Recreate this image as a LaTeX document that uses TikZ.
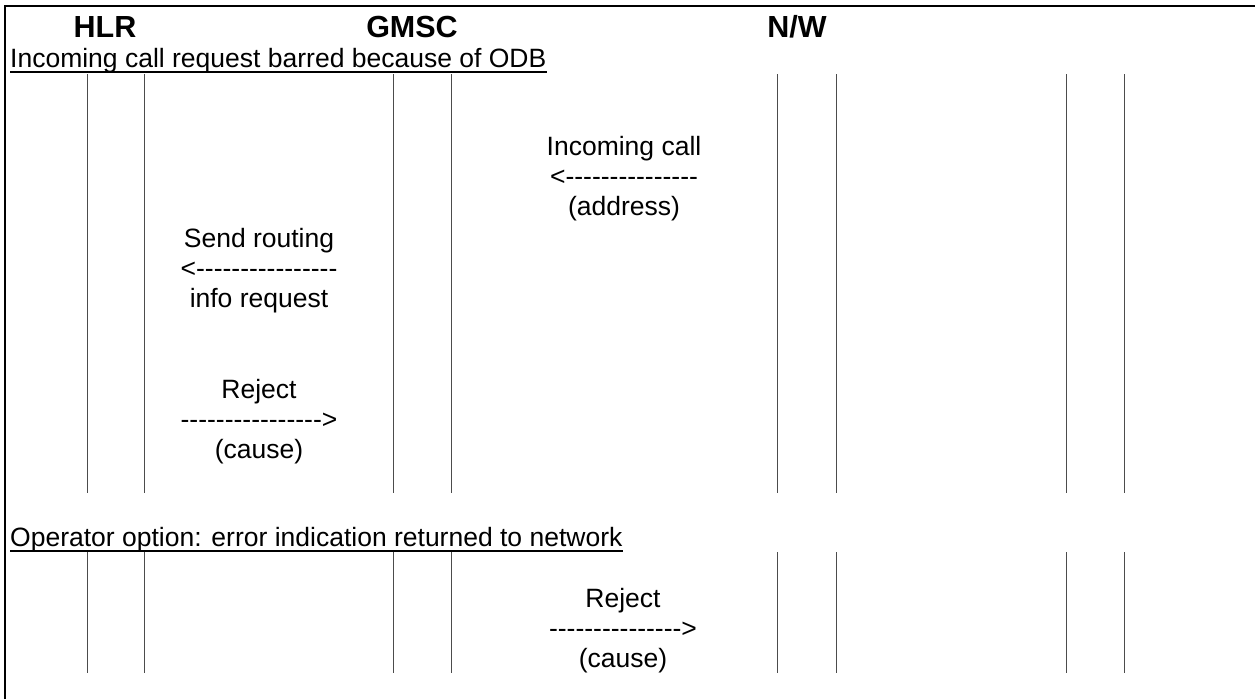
\documentclass[tikz,border=0pt]{standalone}
\usepackage{fontspec}
\setmainfont{Liberation Sans}[Ligatures=TeXOff]
\begin{document}
\begin{tikzpicture}[x=1pt,y=1pt,
  lbl/.style={inner sep=0pt, anchor=base, font=\fontsize{26.5}{30}\selectfont},
  hdr/.style={inner sep=0pt, anchor=base, font=\fontsize{30.5}{36}\selectfont\bfseries},
  ttl/.style={inner sep=0pt, anchor=base west, font=\fontsize{26.5}{30}\selectfont},
  uline/.style={line width=2pt, black},
  life/.style={line width=1pt, black!70},
  frame/.style={line width=2.2pt, black}]
\useasboundingbox (0,0) rectangle (1255,-699);
\draw[frame] (5,-699) -- (5,-6) -- (1255,-6);
% headers
\node[hdr] (hlr)  at (105,-37) {HLR};
\node[hdr] (gmsc) at (412,-37) {GMSC};
\node[hdr] (nw)   at (797,-37) {N/W};
% section titles
\node[ttl] (t1) at (10,-67) {Incoming call request barred because of ODB};
\draw[uline] ([yshift=-5pt]t1.base west) -- ([yshift=-5pt]t1.base east);
\node[ttl] (t2) at (10,-546) {Operator option: error indication returned to network};
\draw[uline] ([yshift=-5pt]t2.base west) -- ([yshift=-5pt]t2.base east);
% lifelines
\foreach \x in {87,144,393,451,777,836,1066,1124}{
  \draw[life] (\x,-74) -- (\x,-493);
  \draw[life] (\x,-552) -- (\x,-673);
}
% messages
\node[lbl] (m1a) at (624,-155) {Incoming call};
\node[lbl] (m1b) at (624,-185) {<---------------};
\node[lbl] (m1c) at (624,-215) {(address)};
\node[lbl] (m2a) at (259,-247) {Send routing};
\node[lbl] (m2b) at (259,-277) {<----------------};
\node[lbl] (m2c) at (259,-307) {info request};
\node[lbl] (m3a) at (259,-398) {Reject};
\node[lbl] (m3b) at (259,-428) {---------------->};
\node[lbl] (m3c) at (259,-458) {(cause)};
\node[lbl] (m4a) at (623,-607) {Reject};
\node[lbl] (m4b) at (623,-637) {--------------->};
\node[lbl] (m4c) at (623,-667) {(cause)};
\end{tikzpicture}
\end{document}
